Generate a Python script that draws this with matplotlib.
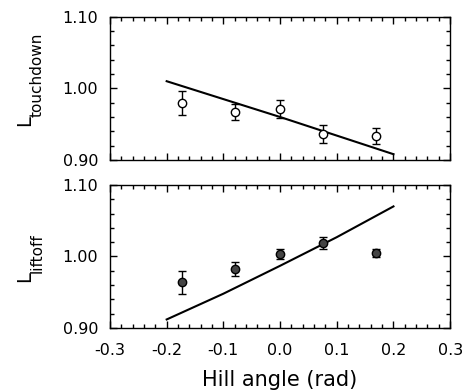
import numpy as np
import matplotlib
matplotlib.use('Agg')
import matplotlib.pyplot as plt
from matplotlib.ticker import MultipleLocator, FormatStrFormatter

plt.rcParams['font.family'] = ['DejaVu Sans']
plt.rcParams['axes.unicode_minus'] = False

# data
angle = [-0.173, -0.079, 0.0, 0.076, 0.170]
td_mean = [0.980, 0.967, 0.971, 0.936, 0.933]
td_err = [0.017, 0.011, 0.013, 0.013, 0.011]
lo_mean = [0.964, 0.983, 1.003, 1.019, 1.005]
lo_err = [0.016, 0.010, 0.007, 0.008, 0.006]

model_x = [-0.2, -0.1, 0.0, 0.1, 0.2]
td_model = [1.010, 0.985, 0.960, 0.934, 0.908]
lo_model = [0.912, 0.948, 0.987, 1.027, 1.070]

W, H = 466, 391
fig = plt.figure(figsize=(W / 100, H / 100), dpi=100)
ax1 = fig.add_axes([0.236, 0.591, 0.730, 0.366])
ax2 = fig.add_axes([0.236, 0.161, 0.730, 0.366])


def style(ax, show_x):
    ax.set_xlim(-0.3, 0.3)
    ax.set_ylim(0.90, 1.10)
    ax.xaxis.set_major_locator(MultipleLocator(0.1))
    ax.xaxis.set_minor_locator(MultipleLocator(0.02))
    ax.yaxis.set_major_locator(MultipleLocator(0.1))
    ax.yaxis.set_minor_locator(MultipleLocator(0.02))
    ax.yaxis.set_major_formatter(FormatStrFormatter('%.2f'))
    ax.xaxis.set_major_formatter(FormatStrFormatter('%.1f'))
    ax.tick_params(which='both', direction='in', top=True, right=True,
                   labelsize=11.5, width=1)
    ax.tick_params(which='major', length=5)
    ax.tick_params(which='minor', length=3)
    ax.tick_params(axis='y', pad=8.5)
    ax.tick_params(axis='x', pad=10.5)
    if not show_x:
        ax.tick_params(labelbottom=False)
    for s in ax.spines.values():
        s.set_linewidth(1)


def ylab(sub, x_right, y_bottom):
    # big L with a large subscript, both rotated
    fig.text(x_right / W, 1 - y_bottom / H, 'L', rotation=90,
             ha='right', va='bottom', fontsize=14)
    fig.text((x_right + 11) / W, 1 - (y_bottom - 9) / H, sub, rotation=90,
             ha='right', va='bottom', fontsize=11)


ax1.plot(model_x, td_model, color='black', lw=1.5)
ax1.errorbar(angle, td_mean, yerr=td_err, fmt='o', mfc='white', mec='black',
             ecolor='black', ms=6, capsize=3, elinewidth=1, mew=1)
style(ax1, False)
ylab('touchdown', 34, 126)

ax2.plot(model_x, lo_model, color='black', lw=1.5)
ax2.errorbar(angle, lo_mean, yerr=lo_err, fmt='o', mfc='#444444', mec='black',
             ecolor='black', ms=6, capsize=3, elinewidth=1, mew=1)
style(ax2, True)
ylab('liftoff', 34, 282)
ax2.set_xlabel('Hill angle (rad)', fontsize=15, labelpad=9)

fig.savefig('out.png', dpi=100)
